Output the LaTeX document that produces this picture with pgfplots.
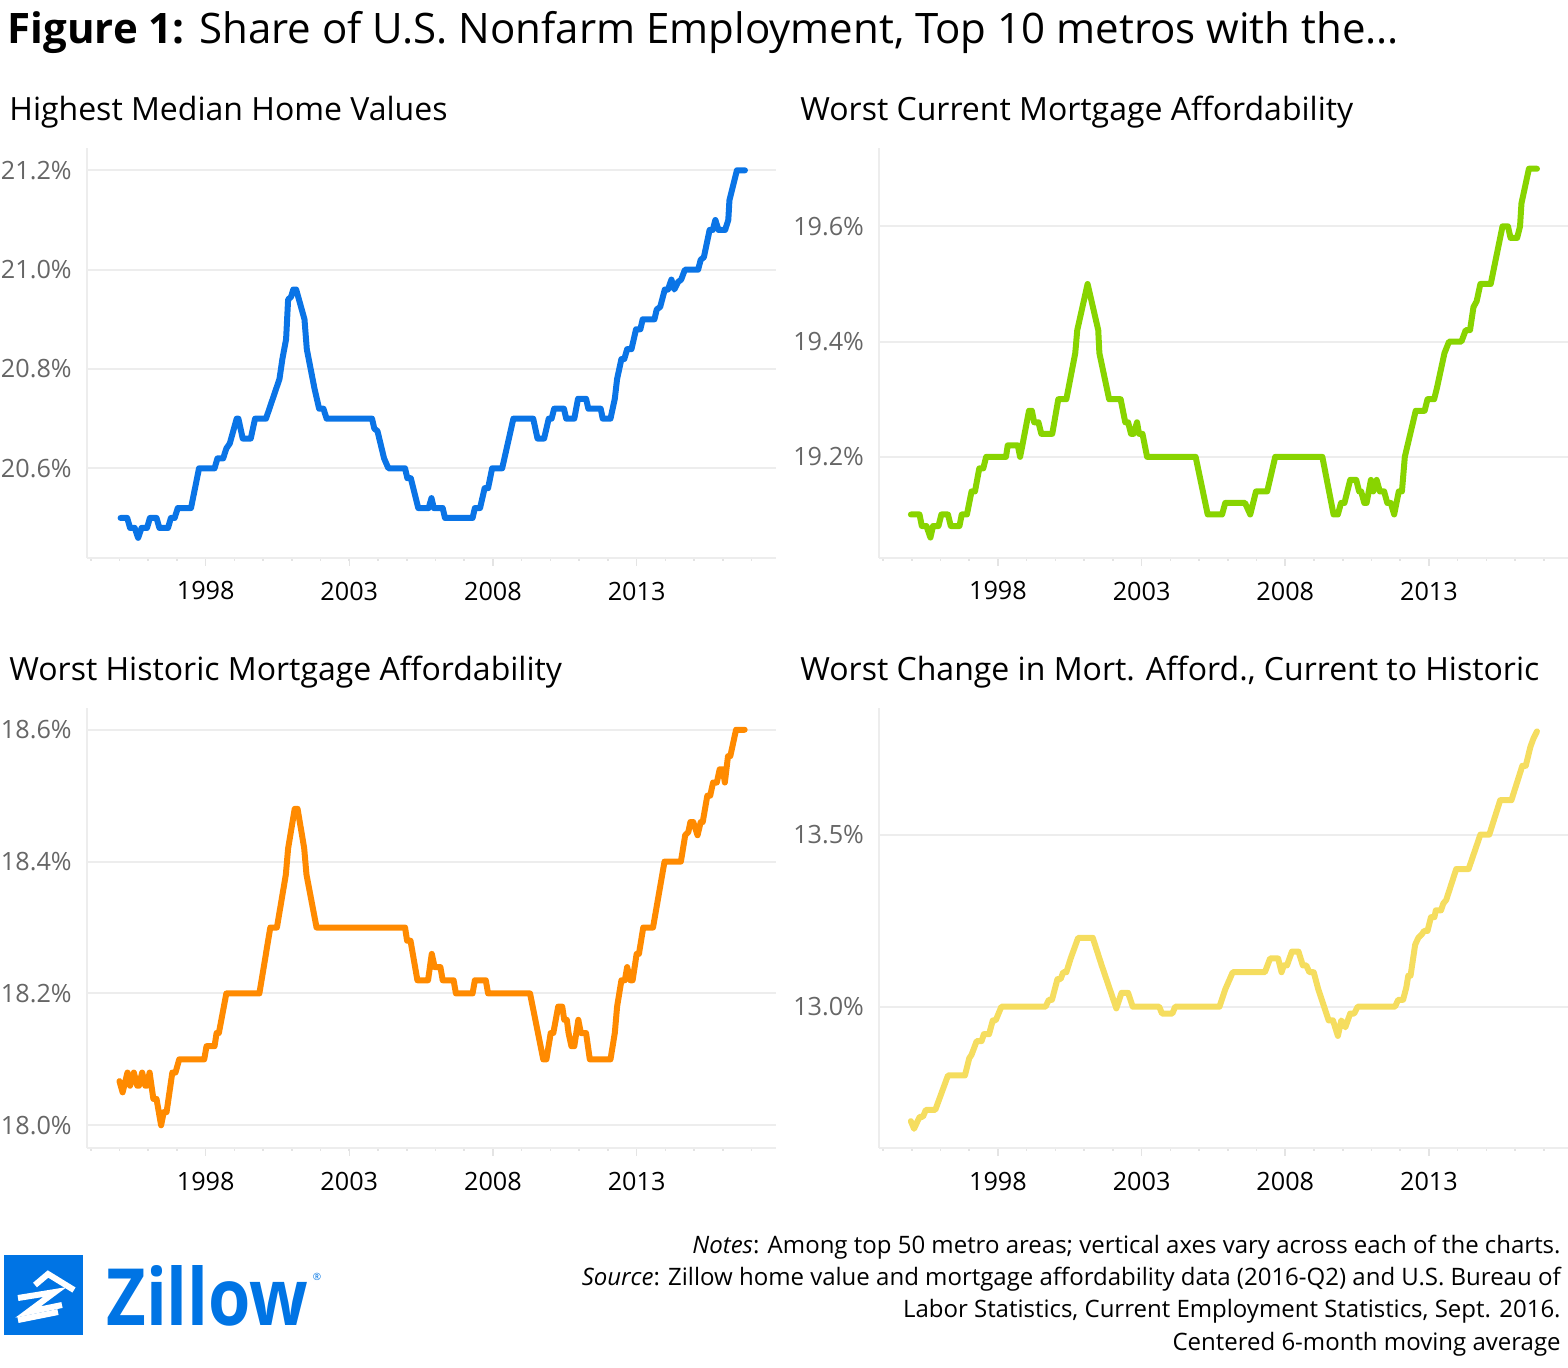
\documentclass[border=0pt]{standalone}
\usepackage{fontspec}
\setmainfont{Open Sans}
\usepackage{pgfplots}
\pgfplotsset{compat=1.18}
\definecolor{zblue}{HTML}{0074E4}
\definecolor{cblue}{HTML}{0A74E6}
\definecolor{cgreen}{HTML}{88D400}
\definecolor{corange}{HTML}{FF8A00}
\definecolor{cyellow}{HTML}{F5DD5F}
\definecolor{gridgray}{HTML}{EDEDED}
\definecolor{tickgray}{HTML}{E4E4E4}
\definecolor{labgray}{HTML}{666666}
\pgfplotsset{
  panel/.style={
    scale only axis, width=344.5bp,
    xmin=1993.86, xmax=2017.84,
    axis x line*=bottom, axis y line*=left,
    axis line style={draw=gridgray, line width=1bp},
    xtick={1998,2003,2008,2013},
    xticklabels={1998,2003,2008,2013},
    minor xtick={1994,...,2017},
    tick align=outside,
    major tick length=4bp, minor tick length=1.5bp,
    every tick/.style={draw=tickgray, line width=0.8bp},
    ytick style={draw=none},
    ymajorgrids, grid style={draw=gridgray, line width=1bp},
    tick label style={font=\fontsize{12.6bp}{14bp}\selectfont},
    xticklabel style={yshift=-4.5bp},
    yticklabel style={text=labgray},
    every axis plot/.style={line width=3bp, line join=round, line cap=round, mark=none},
  }
}
\begin{document}
\begin{tikzpicture}
\path[use as bounding box] (0,0) rectangle (784bp,-684bp);
% title
\node[anchor=base west, inner sep=0, font=\fontsize{21bp}{25bp}\selectfont] at (3.65bp,-21.65bp) {\textbf{Figure 1:} Share of U.S. Nonfarm Employment, Top 10 metros with the...};
\node[anchor=base west, inner sep=0, font=\fontsize{16bp}{19bp}\selectfont] at (4.5bp,-60bp) {Highest Median Home Values};
\node[anchor=base west, inner sep=0, font=\fontsize{16bp}{19bp}\selectfont] at (400bp,-60bp) {Worst Current Mortgage Affordability};
\node[anchor=base west, inner sep=0, font=\fontsize{16bp}{19bp}\selectfont] at (4.5bp,-340bp) {Worst Historic Mortgage Affordability};
\node[anchor=base west, inner sep=0, font=\fontsize{16bp}{19bp}\selectfont] at (400bp,-340bp) {Worst Change in Mort. Afford., Current to Historic};

% Panel 1
\begin{axis}[panel, at={(43.35bp,-278.85bp)}, anchor=south west, height=204.85bp,
  ymin=20.42, ymax=21.245, ytick={20.6,20.8,21.0,21.2},
  yticklabels={20.6\%,20.8\%,21.0\%,21.2\%}]
\addplot[cblue] coordinates {
(1995.04,20.50) (1995.27,20.50) (1995.37,20.48) (1995.53,20.48) (1995.65,20.46) (1995.77,20.48)
(1995.96,20.48) (1996.06,20.50) (1996.29,20.50) (1996.39,20.48) (1996.69,20.48) (1996.79,20.50)
(1996.92,20.50) (1997.03,20.52) (1997.49,20.52) (1997.77,20.60) (1998.31,20.60) (1998.41,20.62)
(1998.61,20.62) (1998.72,20.64) (1998.84,20.65) (1999.08,20.70) (1999.14,20.70) (1999.29,20.66)
(1999.57,20.66) (1999.72,20.70) (2000.10,20.70) (2000.57,20.78) (2000.67,20.82) (2000.80,20.86)
(2000.87,20.94) (2000.97,20.945) (2001.05,20.96) (2001.15,20.96) (2001.44,20.90) (2001.52,20.84)
(2001.79,20.76) (2001.95,20.72) (2002.10,20.72) (2002.21,20.70) (2003.79,20.70) (2003.87,20.68)
(2003.98,20.675) (2004.21,20.62) (2004.36,20.60) (2004.94,20.60) (2005.02,20.58) (2005.14,20.58)
(2005.40,20.52) (2005.76,20.52) (2005.86,20.54) (2005.94,20.52) (2006.25,20.52) (2006.33,20.50)
(2007.29,20.50) (2007.37,20.52) (2007.55,20.52) (2007.71,20.56) (2007.83,20.56) (2007.97,20.60)
(2008.32,20.60) (2008.71,20.70) (2009.40,20.70) (2009.55,20.66) (2009.78,20.66) (2009.94,20.70)
(2010.04,20.70) (2010.13,20.72) (2010.47,20.72) (2010.55,20.70) (2010.83,20.70) (2010.96,20.74)
(2011.24,20.74) (2011.32,20.72) (2011.75,20.72) (2011.82,20.70) (2012.09,20.70) (2012.24,20.74)
(2012.32,20.78) (2012.47,20.82) (2012.57,20.82) (2012.67,20.84) (2012.82,20.84) (2012.98,20.88)
(2013.13,20.88) (2013.21,20.90) (2013.62,20.90) (2013.70,20.92) (2013.82,20.925) (2013.98,20.96)
(2014.09,20.96) (2014.21,20.98) (2014.31,20.96) (2014.44,20.975) (2014.55,20.98) (2014.68,21.00)
(2015.14,21.00) (2015.23,21.02) (2015.34,21.025) (2015.54,21.08) (2015.65,21.08) (2015.74,21.10)
(2015.85,21.08) (2016.08,21.08) (2016.19,21.10) (2016.23,21.14) (2016.49,21.20) (2016.77,21.20)
};
\end{axis}

% Panel 2
\begin{axis}[panel, at={(439.5bp,-278.85bp)}, anchor=south west, height=204.85bp,
  ymin=19.025, ymax=19.736, ytick={19.2,19.4,19.6},
  yticklabels={19.2\%,19.4\%,19.6\%}]
\addplot[cgreen] coordinates {
(1994.97,19.10) (1995.27,19.10) (1995.35,19.08) (1995.51,19.08) (1995.65,19.06) (1995.74,19.08)
(1995.93,19.08) (1996.03,19.10) (1996.26,19.10) (1996.36,19.08) (1996.66,19.08) (1996.74,19.10)
(1996.92,19.10) (1997.08,19.14) (1997.20,19.14) (1997.35,19.18) (1997.49,19.18) (1997.59,19.20)
(1998.28,19.20) (1998.34,19.22) (1998.69,19.22) (1998.77,19.20) (1998.85,19.22) (1999.08,19.28)
(1999.18,19.28) (1999.26,19.26) (1999.41,19.26) (1999.51,19.24) (1999.89,19.24) (2000.10,19.30)
(2000.38,19.30) (2000.69,19.38) (2000.76,19.42) (2001.12,19.50) (2001.49,19.42) (2001.53,19.38)
(2001.87,19.30) (2002.27,19.30) (2002.43,19.26) (2002.53,19.26) (2002.63,19.24) (2002.72,19.24)
(2002.84,19.26) (2002.91,19.24) (2003.03,19.24) (2003.19,19.20) (2004.88,19.20) (2005.30,19.10)
(2005.80,19.10) (2005.91,19.12) (2006.60,19.12) (2006.78,19.10) (2006.98,19.14) (2007.37,19.14)
(2007.65,19.20) (2009.29,19.20) (2009.68,19.10) (2009.83,19.10) (2009.94,19.12) (2010.06,19.12)
(2010.26,19.16) (2010.47,19.16) (2010.57,19.14) (2010.64,19.14) (2010.75,19.12) (2010.83,19.12)
(2010.98,19.16) (2011.06,19.14) (2011.18,19.16) (2011.29,19.14) (2011.44,19.14) (2011.55,19.12)
(2011.67,19.12) (2011.79,19.10) (2011.95,19.14) (2012.06,19.14) (2012.16,19.20) (2012.54,19.28)
(2012.85,19.28) (2012.95,19.30) (2013.18,19.30) (2013.28,19.32) (2013.54,19.38) (2013.70,19.40)
(2014.13,19.40) (2014.28,19.42) (2014.43,19.42) (2014.55,19.46) (2014.66,19.47) (2014.79,19.50)
(2015.15,19.50) (2015.56,19.60) (2015.75,19.60) (2015.84,19.58) (2016.07,19.58) (2016.17,19.60)
(2016.22,19.64) (2016.48,19.70) (2016.76,19.70)
};
\end{axis}

% Panel 3
\begin{axis}[panel, at={(43.35bp,-573.85bp)}, anchor=south west, height=219.85bp,
  ymin=17.966, ymax=18.633, ytick={18.0,18.2,18.4,18.6},
  yticklabels={18.0\%,18.2\%,18.4\%,18.6\%}]
\addplot[corange] coordinates {
(1995.00,18.067) (1995.11,18.05) (1995.28,18.08) (1995.37,18.06) (1995.50,18.08) (1995.62,18.06)
(1995.68,18.06) (1995.79,18.08) (1995.90,18.06) (1995.96,18.06) (1996.05,18.08) (1996.18,18.04)
(1996.29,18.04) (1996.45,18.00) (1996.54,18.02) (1996.64,18.02) (1996.84,18.08) (1996.95,18.08)
(1997.08,18.10) (1997.95,18.10) (1998.03,18.12) (1998.31,18.12) (1998.38,18.14) (1998.46,18.14)
(1998.72,18.20) (1999.87,18.20) (2000.25,18.30) (2000.48,18.30) (2000.79,18.38) (2000.87,18.42)
(2001.10,18.48) (2001.20,18.48) (2001.43,18.42) (2001.51,18.38) (2001.86,18.30) (2004.94,18.30)
(2005.01,18.28) (2005.13,18.28) (2005.37,18.22) (2005.74,18.22) (2005.87,18.26) (2005.97,18.24)
(2006.17,18.24) (2006.25,18.22) (2006.63,18.22) (2006.71,18.20) (2007.29,18.20) (2007.37,18.22)
(2007.75,18.22) (2007.83,18.20) (2009.29,18.20) (2009.75,18.10) (2009.86,18.10) (2010.01,18.14)
(2010.10,18.14) (2010.27,18.18) (2010.41,18.18) (2010.48,18.16) (2010.57,18.16) (2010.63,18.14)
(2010.73,18.12) (2010.83,18.12) (2010.97,18.16) (2011.06,18.14) (2011.24,18.14) (2011.37,18.10)
(2012.09,18.10) (2012.24,18.14) (2012.32,18.18) (2012.47,18.22) (2012.59,18.22) (2012.67,18.24)
(2012.78,18.22) (2012.86,18.22) (2013.00,18.26) (2013.08,18.26) (2013.23,18.30) (2013.57,18.30)
(2013.97,18.40) (2014.54,18.40) (2014.69,18.44) (2014.80,18.445) (2014.87,18.46) (2014.97,18.46)
(2015.12,18.44) (2015.23,18.46) (2015.30,18.46) (2015.46,18.50) (2015.56,18.50) (2015.66,18.52)
(2015.79,18.52) (2015.89,18.54) (2016.00,18.54) (2016.07,18.52) (2016.18,18.56) (2016.26,18.56)
(2016.46,18.60) (2016.76,18.60)
};
\end{axis}

% Panel 4
\begin{axis}[panel, at={(439.5bp,-573.85bp)}, anchor=south west, height=219.85bp,
  ymin=12.59, ymax=13.868, ytick={13.0,13.5},
  yticklabels={13.0\%,13.5\%}]
\addplot[cyellow] coordinates {
(1994.97,12.667) (1995.08,12.645) (1995.20,12.667) (1995.28,12.68) (1995.39,12.68) (1995.49,12.70)
(1995.82,12.70) (1995.93,12.725) (1996.26,12.80) (1996.85,12.80) (1997.00,12.85) (1997.08,12.86)
(1997.26,12.90) (1997.43,12.90) (1997.51,12.92) (1997.69,12.92) (1997.82,12.96) (1997.92,12.96)
(1998.12,13.00) (1999.66,13.00) (1999.77,13.02) (1999.88,13.02) (2000.07,13.08) (2000.18,13.08)
(2000.27,13.10) (2000.38,13.10) (2000.53,13.14) (2000.79,13.20) (2001.30,13.20) (2001.61,13.12)
(2002.12,12.995) (2002.30,13.04) (2002.53,13.04) (2002.69,13.00) (2003.61,13.00) (2003.71,12.98)
(2004.07,12.98) (2004.17,13.00) (2005.71,13.00) (2005.91,13.05) (2006.17,13.10) (2007.29,13.10)
(2007.47,13.14) (2007.75,13.14) (2007.87,13.10) (2007.95,13.12) (2008.06,13.12) (2008.23,13.16)
(2008.46,13.16) (2008.61,13.12) (2008.73,13.12) (2008.84,13.10) (2008.99,13.10) (2009.15,13.05)
(2009.51,12.96) (2009.66,12.96) (2009.83,12.915) (2009.95,12.96) (2010.09,12.94) (2010.26,12.98)
(2010.40,12.98) (2010.52,13.00) (2011.82,13.00) (2011.93,13.02) (2012.10,13.02) (2012.21,13.055)
(2012.28,13.09) (2012.36,13.09) (2012.52,13.18) (2012.63,13.20) (2012.75,13.21) (2012.83,13.22)
(2012.95,13.22) (2013.07,13.26) (2013.19,13.26) (2013.24,13.28) (2013.42,13.28) (2013.50,13.30)
(2013.60,13.31) (2013.95,13.40) (2014.38,13.40) (2014.79,13.50) (2015.10,13.50) (2015.48,13.60)
(2015.87,13.60) (2016.25,13.70) (2016.37,13.70) (2016.53,13.755) (2016.64,13.78) (2016.76,13.80)
};
\end{axis}

% notes
\begin{scope}[every node/.style={anchor=base east, inner sep=0, font=\fontsize{12bp}{14bp}\selectfont}]
\node at (780.5bp,-626.5bp) {\textit{Notes}: Among top 50 metro areas; vertical axes vary across each of the charts.};
\node at (780.5bp,-642.5bp) {\textit{Source}: Zillow home value and mortgage affordability data (2016-Q2) and U.S. Bureau of};
\node at (780.5bp,-658.5bp) {Labor Statistics, Current Employment Statistics, Sept. 2016.};
\node at (780.5bp,-675bp) {Centered 6-month moving average};
\end{scope}

% Zillow logo
\fill[zblue] (2bp,-627.5bp) rectangle (41.5bp,-667.5bp);
\draw[white, line width=3bp, line join=miter] (17.5bp,-642.5bp) -- (24bp,-637bp) -- (37bp,-645bp);
\draw[white, line width=3bp, line join=miter] (9bp,-649bp) -- (27.5bp,-646bp) -- (14bp,-656bp) -- (31bp,-652.5bp);
\draw[white, line width=3bp] (9bp,-660bp) -- (29bp,-656bp);
\node[anchor=base west, inner sep=0, text=zblue] at (53bp,-662.5bp) {\resizebox{101bp}{30bp}{\bfseries Zillow}};
\node[anchor=center, inner sep=0, text=zblue, font=\fontsize{5bp}{6bp}\selectfont] at (158.5bp,-638.5bp) {\textregistered};
\end{tikzpicture}
\end{document}
